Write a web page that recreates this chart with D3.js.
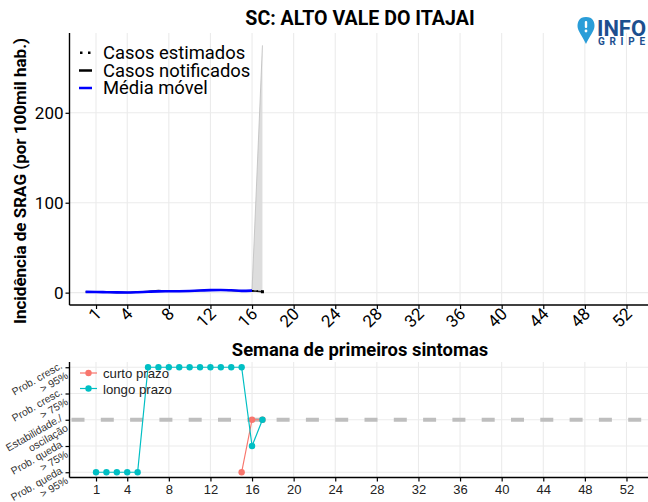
<!DOCTYPE html>
<html><head><meta charset="utf-8">
<script src="https://cdn.jsdelivr.net/npm/d3@7"></script>
<style>body{margin:0;background:#fff}svg{display:block}</style>
</head><body>
<svg id="c" width="648" height="502"></svg>
<script>
// ---- data ----
const weeks = [0,1,2,3,4,5,6,7,8,9,10,11,12,13,14,15,16];
const mediaMovel = [0.8,0.7,0.5,0.3,0.2,0.5,1.0,1.4,1.5,1.6,1.9,2.3,2.8,3.0,2.6,2.0,2.2];
const notifWeeks = [0,1,2,3,4,5,6,7,8,9,10,11,12,13,14,15,16,17];
const notificados = [0.8,0.7,0.5,0.3,0.2,0.6,1.3,2.2,1.6,1.5,1.9,2.4,3.0,2.9,2.4,2.0,2.0,1.0];
const estWeeks = [16,17];
const estimados = [2.0,1.5];
const bandLow = [1.5,0.0];
const bandHigh = [3.0,275];
const xTicks = [1,4,8,12,16,20,24,28,32,36,40,44,48,52];
const yTicks = [0,100,200];
const trendLevels = ["Prob. queda\n> 95%","Prob. queda\n> 75%","Estabilidade./\noscilação","Prob. cresc.\n> 75%","Prob. cresc.\n> 95%"];
const curtoWeeks = [15,16,17];
const curtoVals = [-2,0,0];
const longoWeeks = [1,2,3,4,5,6,7,8,9,10,11,12,13,14,15,16,17];
const longoVals = [-2,-2,-2,-2,-2,2,2,2,2,2,2,2,2,2,2,-1,0];

const svg = d3.select("#c");
const grid = "#ebebeb";
const RB = "Roboto, 'Liberation Sans', sans-serif";
const LS = "'Liberation Sans', Arial, sans-serif";

// ---- top panel ----
const L = 69.5, R = 653;
const x = d3.scaleLinear().domain([-1.55, 54.55]).range([L, R]);
const y = d3.scaleLinear().domain([-13.75, 288.75]).range([305, 33]);

const gTop = svg.append("g");
gTop.selectAll("line.vg").data(xTicks).join("line")
  .attr("x1", d=>x(d)).attr("x2", d=>x(d)).attr("y1", 33).attr("y2", 305)
  .attr("stroke", grid).attr("stroke-width", 1.1);
gTop.selectAll("line.hg").data(yTicks).join("line")
  .attr("x1", L).attr("x2", 648).attr("y1", d=>y(d)).attr("y2", d=>y(d))
  .attr("stroke", grid).attr("stroke-width", 1.1);

// band
const bandData = estWeeks.map((w,i)=>({w, lo: bandLow[i], hi: bandHigh[i]}));
gTop.append("path").datum(bandData)
  .attr("d", d3.area().x(d=>x(d.w)).y0(d=>y(d.lo)).y1(d=>y(d.hi)))
  .attr("fill", "#d9d9d9").attr("fill-opacity", 0.9);
gTop.append("path").datum(bandData)
  .attr("d", d3.line().x(d=>x(d.w)).y(d=>y(d.hi)))
  .attr("fill", "none").attr("stroke", "#bdbdbd").attr("stroke-width", 0.8);

// notified
gTop.append("path").datum(notifWeeks.map((w,i)=>[w, notificados[i]]))
  .attr("d", d3.line().x(d=>x(d[0])).y(d=>y(d[1])))
  .attr("fill","none").attr("stroke","#222").attr("stroke-width",1.6);
// estimated dotted
gTop.append("path").datum(estWeeks.map((w,i)=>[w, estimados[i]]))
  .attr("d", d3.line().x(d=>x(d[0])).y(d=>y(d[1])))
  .attr("fill","none").attr("stroke","#000").attr("stroke-width",1.6).attr("stroke-dasharray","1.5,3");
gTop.append("rect").attr("x", x(17)-1.5).attr("y", y(notificados[17])-1.5).attr("width",3).attr("height",3).attr("fill","#000");
// media movel
gTop.append("path").datum(weeks.map((w,i)=>[w, mediaMovel[i]]))
  .attr("d", d3.line().curve(d3.curveMonotoneX).x(d=>x(d[0])).y(d=>y(d[1])))
  .attr("fill","none").attr("stroke","#0000ff").attr("stroke-width",2.6);

// axes
const ax = gTop.append("g").attr("transform","translate(0,305)")
  .call(d3.axisBottom(x).tickValues(xTicks).tickSize(4).tickFormat(d3.format("d")));
ax.select(".domain").attr("d", `M${L},0H648`).attr("stroke","#000").attr("stroke-width",1.4);
ax.selectAll(".tick line").attr("stroke","#000").attr("stroke-width",1.2);
ax.selectAll(".tick text").attr("font-family", RB).attr("font-size", 17).attr("fill","#000")
  .attr("text-anchor","end").attr("dy", 0).attr("y", 0)
  .attr("transform","translate(6,10) rotate(-45)");
const ay = gTop.append("g").attr("transform",`translate(${L},0)`)
  .call(d3.axisLeft(y).tickValues(yTicks).tickSize(4));
ay.select(".domain").attr("d", `M0,33V305`).attr("stroke","#000").attr("stroke-width",1.4);
ay.selectAll(".tick line").attr("stroke","#000").attr("stroke-width",1.2);
ay.selectAll(".tick text").attr("font-family", RB).attr("font-size", 17).attr("fill","#000").attr("x",-6);

// y title
svg.append("text").attr("transform","translate(26,181) rotate(-90)")
  .attr("text-anchor","middle").attr("font-family", RB).attr("font-weight","bold")
  .attr("font-size", 17).text("Incidência de SRAG (por 100mil hab.)");

// title
svg.append("text").attr("x", 360).attr("y", 25).attr("text-anchor","middle")
  .attr("font-family", RB).attr("font-weight","bold").attr("font-size", 19.6).text("SC: ALTO VALE DO ITAJAI");

// top legend
const lg = svg.append("g");
const leg = [{t:"Casos estimados", k:"dot"},{t:"Casos notificados", k:"black"},{t:"Média móvel", k:"blue"}];
leg.forEach((d,i)=>{
  const yy = 53 + i*17.5;
  if (d.k==="dot") {
    lg.append("rect").attr("x",80).attr("y",yy-1.5).attr("width",2.5).attr("height",2.5).attr("fill","#000");
    lg.append("rect").attr("x",88).attr("y",yy-1.5).attr("width",2.5).attr("height",2.5).attr("fill","#000");
  } else {
    lg.append("line").attr("x1",79).attr("x2",92).attr("y1",yy).attr("y2",yy)
      .attr("stroke", d.k==="blue" ? "#0000ff" : "#000").attr("stroke-width",2.5);
  }
  lg.append("text").attr("x",103).attr("y",yy+6).attr("font-family",RB).attr("font-size",18.4).text(d.t);
});

// x title
svg.append("text").attr("x", 360).attr("y", 356).attr("text-anchor","middle")
  .attr("font-family", RB).attr("font-weight","bold").attr("font-size", 18.4).text("Semana de primeiros sintomas");

// ---- bottom panel ----
const yb = d3.scaleLinear().domain([-2.2, 2.2]).range([477.5, 362]);
const levelVals = [-2,-1,0,1,2];
const gB = svg.append("g");
gB.selectAll("line.vg").data(xTicks).join("line")
  .attr("x1", d=>x(d)).attr("x2", d=>x(d)).attr("y1", 362).attr("y2", 477.5)
  .attr("stroke", grid).attr("stroke-width", 1.1);
gB.selectAll("line.hg").data(levelVals).join("line")
  .attr("x1", L).attr("x2", 648).attr("y1", d=>yb(d)).attr("y2", d=>yb(d))
  .attr("stroke", grid).attr("stroke-width", 1.1);
gB.append("line").attr("x1", L+2).attr("x2", 648).attr("y1", yb(0)).attr("y2", yb(0))
  .attr("stroke","#bebebe").attr("stroke-width",4).attr("stroke-dasharray","13,16.3");

const series = [
  {w: curtoWeeks, v: curtoVals, c: "#F8766D"},
  {w: longoWeeks, v: longoVals, c: "#00BFC4"}
];
series.forEach(s=>{
  const pts = s.w.map((w,i)=>[w, s.v[i]]);
  gB.append("path").datum(pts).attr("d", d3.line().x(d=>x(d[0])).y(d=>yb(d[1])))
    .attr("fill","none").attr("stroke", s.c).attr("stroke-width",1.2);
  gB.selectAll(null).data(pts).join("circle").attr("cx", d=>x(d[0])).attr("cy", d=>yb(d[1]))
    .attr("r", 3.2).attr("fill", s.c);
});

const bx = gB.append("g").attr("transform","translate(0,477.5)")
  .call(d3.axisBottom(x).tickValues(xTicks).tickSize(4).tickFormat(d3.format("d")));
bx.select(".domain").attr("d", `M${L},0H648`).attr("stroke","#000").attr("stroke-width",1.4);
bx.selectAll(".tick line").attr("stroke","#000").attr("stroke-width",1.2);
bx.selectAll(".tick text").attr("font-family", LS).attr("font-size", 13).attr("fill","#222").attr("y",7);
const by = gB.append("g").attr("transform",`translate(${L},0)`)
  .call(d3.axisLeft(yb).tickValues(levelVals).tickSize(4).tickFormat(d=>""));
by.select(".domain").attr("d", `M0,362V477.5`).attr("stroke","#000").attr("stroke-width",1.4);
by.selectAll(".tick line").attr("stroke","#000").attr("stroke-width",1.2);
levelVals.forEach((v,i)=>{
  const lines = trendLevels[i].split("\n");
  const t = gB.append("text").attr("font-family", LS).attr("font-size", 10.5).attr("fill","#333")
    .attr("text-anchor","end")
    .attr("transform", `translate(64,${yb(v)+2}) rotate(-30)`);
  lines.forEach((ln,j)=>{
    t.append("tspan").attr("x",0).attr("y", (j - (lines.length-1)/2)*11.5 + 4).text(ln);
  });
});

// bottom legend
const bl = svg.append("g");
[{t:"curto prazo", c:"#F8766D"},{t:"longo prazo", c:"#00BFC4"}].forEach((d,i)=>{
  const yy = 373 + i*15.5;
  bl.append("line").attr("x1",80).attr("x2",97).attr("y1",yy).attr("y2",yy).attr("stroke",d.c).attr("stroke-width",1.2);
  bl.append("circle").attr("cx",88.5).attr("cy",yy).attr("r",3.2).attr("fill",d.c);
  bl.append("text").attr("x",103).attr("y",yy+5).attr("font-family",LS).attr("font-size",13.2).attr("fill","#222").text(d.t);
});

// logo
const logo = svg.append("g");
logo.append("path").attr("d","M586,17 C579,17 577.5,22 577.5,26 C577.5,31 583,37 586,44 C589,37 594.5,31 594.5,26 C594.5,22 593,17 586,17 Z")
  .attr("fill","#2a9dd8");
logo.append("rect").attr("x",584.8).attr("y",21).attr("width",2.4).attr("height",7).attr("rx",1).attr("fill","#fff");
logo.append("circle").attr("cx",586).attr("cy",31).attr("r",1.4).attr("fill","#fff");
logo.append("text").attr("x",597).attr("y",36).attr("font-family",RB).attr("font-weight","bold")
  .attr("font-size",22).attr("fill","#1d4f8f").attr("textLength",49).attr("lengthAdjust","spacingAndGlyphs").text("INFO");
logo.append("text").attr("x",598).attr("y",45).attr("font-family",RB).attr("font-weight","bold")
  .attr("font-size",10).attr("fill","#1d4f8f").attr("textLength",47).attr("lengthAdjust","spacing").text("GRIPE");
</script>
</body></html>
